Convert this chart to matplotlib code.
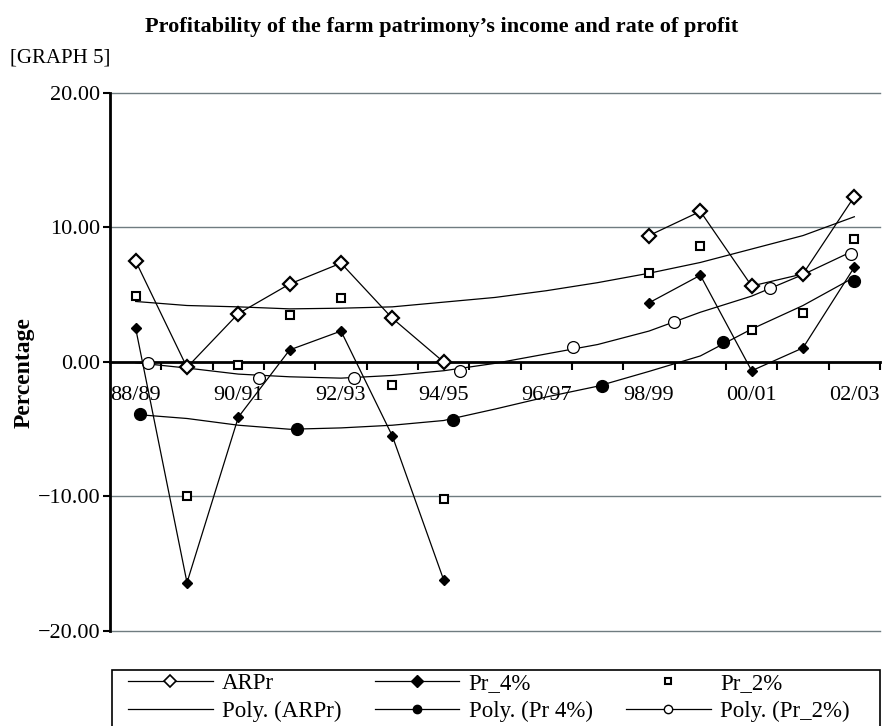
import numpy as np
import matplotlib
matplotlib.use('Agg')
from matplotlib import pyplot as plt
from matplotlib.lines import Line2D
from matplotlib.patches import Rectangle

# categories (crop years)
years = ['88/89', '89/90', '90/91', '91/92', '92/93', '93/94', '94/95', '95/96',
         '96/97', '97/98', '98/99', '99/00', '00/01', '01/02', '02/03']
nan = np.nan

# series (no data for 95/96 - 97/98)
arpr = [7.5, -0.4, 3.6, 5.8, 7.35, 3.25, 0.0, nan, nan, nan, 9.4, 11.2, 5.65, 6.55, 12.3]
pr_4 = [2.5, -16.4, -4.1, 0.9, 2.3, -5.5, -16.2, nan, nan, nan, 4.4, 6.45, -0.65, 1.05, 7.05]
pr_2 = [4.9, -10.0, -0.2, 3.5, 4.75, -1.7, -10.2, nan, nan, nan, 6.6, 8.65, 2.4, 3.65, 9.15]

# polynomial trendlines, read at each category
poly_arpr = [4.5, 4.2, 4.1, 3.95, 4.0, 4.1, 4.45, 4.8, 5.3, 5.9, 6.6, 7.4, 8.4, 9.4, 10.8]
poly_pr4 = [-3.9, -4.2, -4.7, -5.0, -4.9, -4.7, -4.35, -3.5, -2.6, -1.8, -0.7, 0.45, 2.45, 4.2, 6.3]
poly_pr2 = [-0.05, -0.45, -0.9, -1.1, -1.2, -1.0, -0.65, -0.1, 0.6, 1.3, 2.3, 3.7, 4.9, 6.5, 8.3]

# marker points sitting on the trendlines (position in category units)
pr4_mark_x = [0.08, 3.14, 6.18, 9.08, 11.44, 14.0]
pr4_mark_y = [-3.9, -5.0, -4.3, -1.8, 1.5, 6.05]
pr2_mark_x = [0.24, 2.4, 4.25, 6.32, 8.52, 10.49, 12.36, 13.93]
pr2_mark_y = [-0.1, -1.2, -1.2, -0.65, 1.1, 3.0, 5.5, 8.0]

yticks = [-20, -10, 0, 10, 20]

plt.rcParams['font.family'] = ['Liberation Serif', 'DejaVu Serif']

fig = plt.figure(figsize=(8.83, 7.26), dpi=100)
ax = fig.add_axes((110 / 883, 1 - 631 / 726, 770 / 883, 538 / 726))

x = np.arange(len(years))
grid_color = '#6f7c80'
for v in yticks:
    if v != 0:
        ax.axhline(v, color=grid_color, lw=1.0, zorder=0, clip_on=False)

ax.plot(x, poly_arpr, color='black', lw=0.9, zorder=2)
ax.plot(x, poly_pr4, color='black', lw=0.9, zorder=2)
ax.plot(x, poly_pr2, color='black', lw=0.9, zorder=2)
ax.plot(pr4_mark_x, pr4_mark_y, ls='none', marker='o', ms=8.5, color='black', zorder=4)
ax.plot(pr2_mark_x, pr2_mark_y, ls='none', marker='o', ms=8.5, mfc='white',
        mec='black', mew=0.9, zorder=4)

ax.plot(x, arpr, color='black', lw=0.9, marker='D', ms=7.5, mfc='white',
        mec='black', mew=1.6, zorder=5)
ax.plot(x, pr_4, color='black', lw=0.9, marker='D', ms=5.2, mfc='black',
        mec='black', zorder=5)
ax.plot(x, pr_2, ls='none', marker='s', ms=5.2, mfc='white', mec='black',
        mew=1.5, zorder=5)

ax.set_xlim(-0.5, len(years) - 0.5)
ax.set_ylim(-20, 20)

for s in ['top', 'right']:
    ax.spines[s].set_visible(False)
ax.spines['left'].set_linewidth(2)
ax.spines['bottom'].set_position(('data', 0))
ax.spines['bottom'].set_linewidth(2)
ax.spines['bottom'].set_zorder(3)

ax.set_yticks(yticks)
ax.set_yticklabels(['%.2f' % v if v >= 0 else '\u2212%.2f' % -v for v in yticks])
ax.tick_params(axis='y', direction='out', length=5, width=1.5, pad=2, labelsize=16)

ax.set_xticks(np.arange(0.5, len(years)))
ax.set_xticklabels([])
ax.set_xticks(x[::2], minor=True)
ax.set_xticklabels(years[::2], minor=True)
ax.tick_params(axis='x', which='major', direction='out', length=6, width=1.5)
ax.tick_params(axis='x', which='minor', length=0, pad=17, labelsize=16)

fig.text(442 / 883, 1 - 27 / 726, "Profitability of the farm patrimony\u2019s income and rate of profit",
         ha='center', va='center', fontsize=16, fontweight='bold')
fig.text(10 / 883, 1 - 58 / 726, '[GRAPH 5]', ha='left', va='center', fontsize=15)
fig.text(24 / 883, 1 - 373 / 726, 'Percentage', rotation=90, ha='center', va='center',
         fontsize=17, fontweight='bold')

handles = [
    Line2D([], [], color='black', lw=0.9, marker='D', ms=6, mfc='white', mec='black', mew=1.2),
    Line2D([], [], color='black', lw=0.9),
    Line2D([], [], color='black', lw=0.9, marker='D', ms=6, mfc='black', mec='black'),
    Line2D([], [], color='black', lw=0.9, marker='o', ms=6, mfc='black', mec='black'),
    Line2D([], [], ls='none', marker='s', ms=5, mfc='white', mec='black', mew=1.5),
    Line2D([], [], color='black', lw=0.9, marker='o', ms=6, mfc='white', mec='black'),
]
labels = ['ARPr', 'Poly. (ARPr)', 'Pr_4%', 'Poly. (Pr 4%)', 'Pr_2%', 'Poly. (Pr_2%)']
leg = fig.legend(handles, labels, ncol=3, loc='upper left',
                 bbox_to_anchor=(128 / 883, 1 - 673 / 726),
                 prop={'size': 16.5}, frameon=False,
                 handlelength=3.7, handletextpad=0.4, labelspacing=0.28,
                 borderpad=0, borderaxespad=0, columnspacing=1.45)

# legend frame: runs past the bottom edge of the picture, as in the source
fig.patches.append(Rectangle((112 / 883, -0.05), 768 / 883, 0.05 + (1 - 670 / 726),
                             transform=fig.transFigure, fill=False,
                             edgecolor='black', linewidth=1.2))

fig.savefig('out.png', dpi=100)
